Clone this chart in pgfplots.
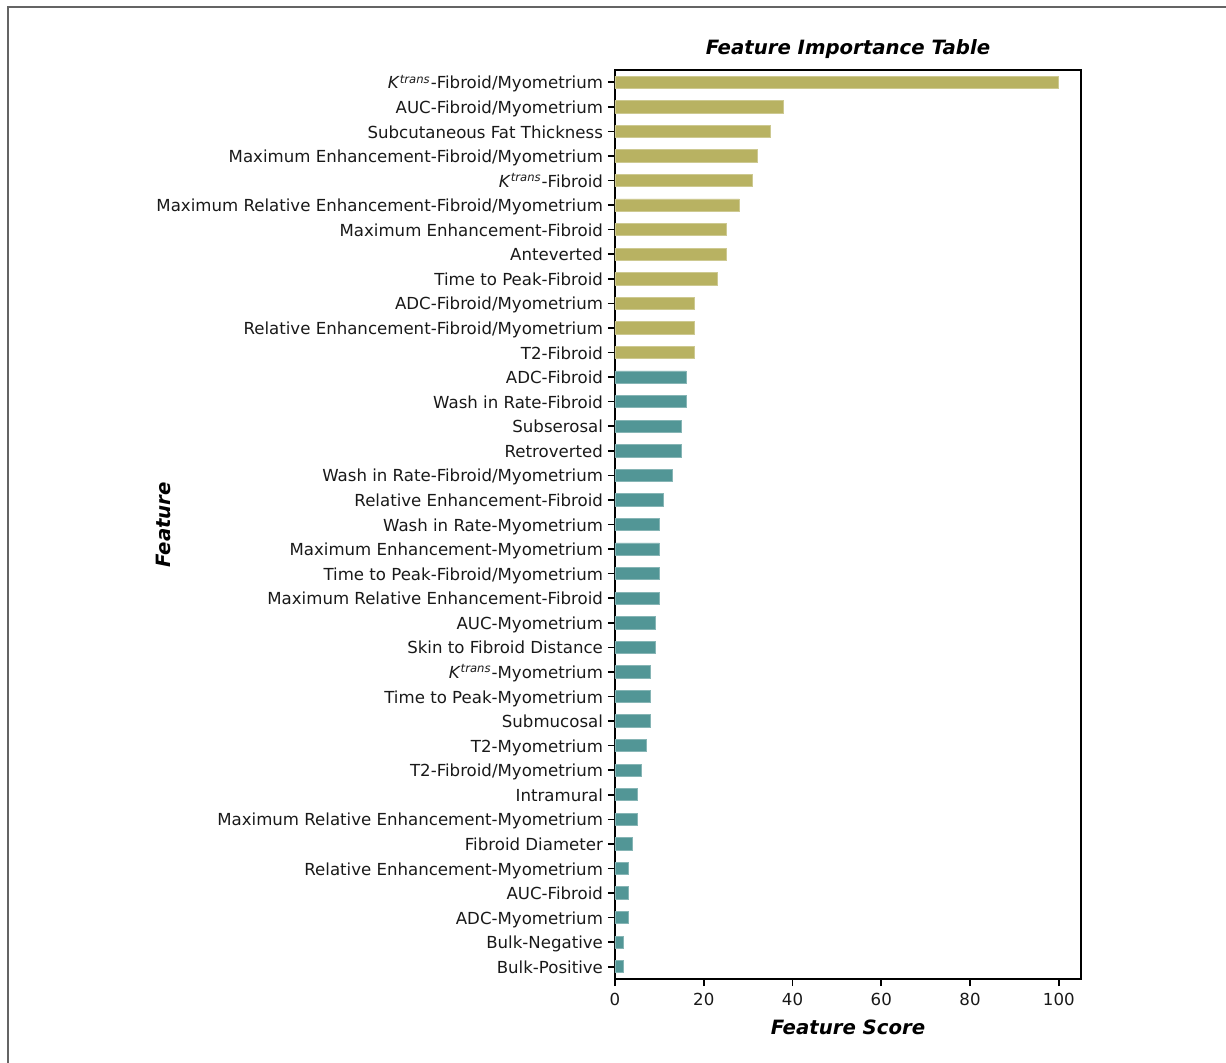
\documentclass[border=0pt]{standalone}
\usepackage{fontspec}
\setmainfont{DejaVu Sans}
\usepackage{pgfplots}
\pgfplotsset{compat=1.18}
\definecolor{olivebar}{RGB}{184,178,98}
\definecolor{tealbar}{RGB}{82,150,150}
\definecolor{framegray}{RGB}{100,100,100}
\newcommand{\K}{\textit{K}\textsuperscript{\textit{trans}}}
\begin{document}
\begin{tikzpicture}
\begin{axis}[
  at={(0pt,0pt)}, anchor=south west,
  scale only axis, width=233pt, height=454.5pt,
  xmin=0, xmax=105, ymin=-0.5, ymax=36.5, y dir=reverse,
  xbar, bar width=0.5, bar shift=0pt,
  axis line style={line width=0.9pt},
  tick style={line width=0.8pt, black},
  tick align=outside, major tick length=3.5pt,
  xtick={0,20,40,60,80,100},
  xtick pos=bottom, ytick pos=left,
  ytick={0,...,36},
  yticklabels={{\K-Fibroid/Myometrium},AUC-Fibroid/Myometrium,Subcutaneous Fat Thickness,Maximum Enhancement-Fibroid/Myometrium,{\K-Fibroid},Maximum Relative Enhancement-Fibroid/Myometrium,Maximum Enhancement-Fibroid,Anteverted,Time to Peak-Fibroid,ADC-Fibroid/Myometrium,Relative Enhancement-Fibroid/Myometrium,T2-Fibroid,ADC-Fibroid,Wash in Rate-Fibroid,Subserosal,Retroverted,Wash in Rate-Fibroid/Myometrium,Relative Enhancement-Fibroid,Wash in Rate-Myometrium,Maximum Enhancement-Myometrium,Time to Peak-Fibroid/Myometrium,Maximum Relative Enhancement-Fibroid,AUC-Myometrium,Skin to Fibroid Distance,{\K-Myometrium},Time to Peak-Myometrium,Submucosal,T2-Myometrium,T2-Fibroid/Myometrium,Intramural,Maximum Relative Enhancement-Myometrium,Fibroid Diameter,Relative Enhancement-Myometrium,AUC-Fibroid,ADC-Myometrium,Bulk-Negative,Bulk-Positive},
  /pgf/number format/assume math mode=true,
  ticklabel style={font=\fontsize{8.3}{10}\selectfont, text=black!90},
  yticklabel style={anchor=east, text height=6.2pt, text depth=1.6pt, xshift=1pt, yshift=-1pt},
  xticklabel style={yshift=0pt},
  title={Feature Importance Table},
  title style={font=\fontsize{9.85}{12}\selectfont\bfseries\itshape, at={(rel axis cs:0.5,1)}, anchor=south, yshift=-4pt},
  xlabel={Feature Score},
  xlabel style={font=\fontsize{9.85}{12}\selectfont\bfseries\itshape, at={(rel axis cs:0.5,0)}, anchor=center, yshift=-24pt},
]
\addplot[fill=olivebar, draw=olivebar!70!white, line width=0.4pt] coordinates {
(100,0) (38,1) (35,2) (32,3) (31,4) (28,5) (25,6) (25,7) (23,8) (18,9) (18,10) (18,11)
};
\addplot[fill=tealbar, draw=tealbar!70!white, line width=0.4pt] coordinates {
(16,12) (16,13) (15,14) (15,15) (13,16) (11,17) (10,18) (10,19) (10,20) (10,21) (9,22) (9,23) (8,24) (8,25) (8,26) (7,27) (6,28) (5,29) (5,30) (4,31) (3,32) (3,33) (3,34) (2,35) (2,36)
};
\end{axis}
\node[rotate=90, font=\fontsize{9.85}{12}\selectfont\bfseries\itshape] at (-226pt,227.25pt) {Feature};
\draw[framegray, line width=1pt] (-303.5pt,-45pt) -- (-303.5pt,486pt) -- (310pt,486pt);
\pgfresetboundingbox
\useasboundingbox (-307.5pt,-42pt) rectangle (305.5pt,489.5pt);
\end{tikzpicture}
\end{document}
